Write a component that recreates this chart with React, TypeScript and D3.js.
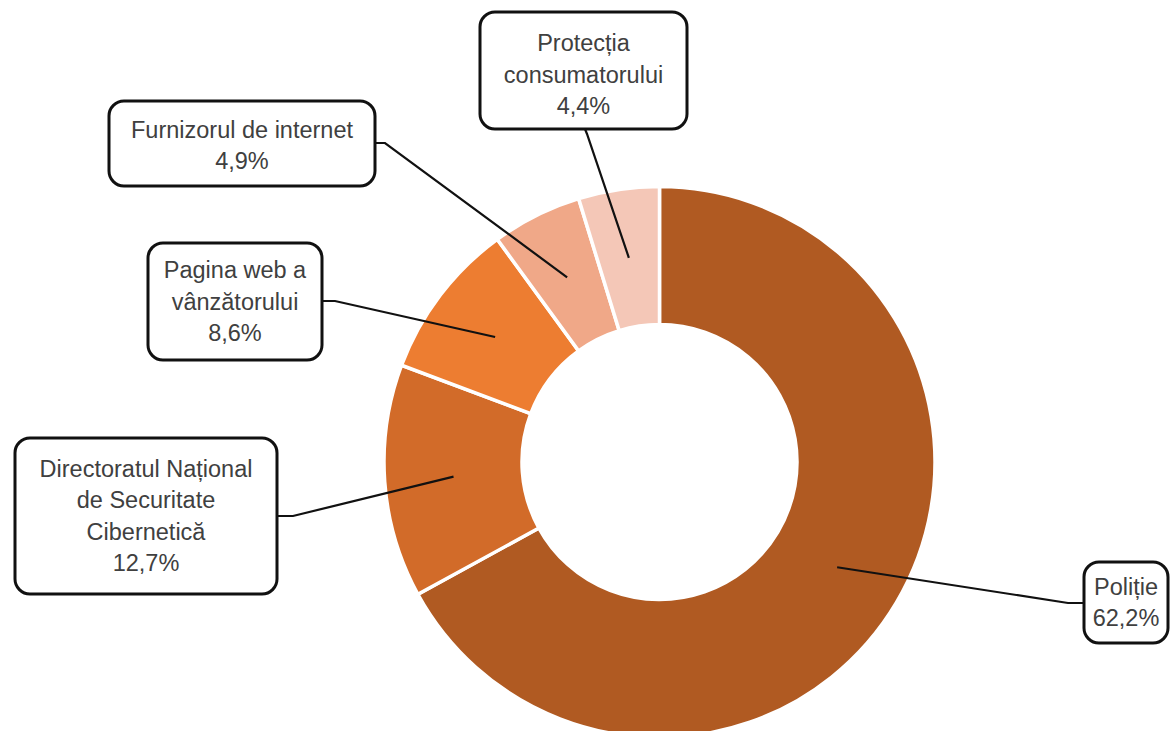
import React from "react";
import * as d3 from "d3";

const categories = [
  "Poliție",
  "Directoratul Național de Securitate Cibernetică",
  "Pagina web a vânzătorului",
  "Furnizorul de internet",
  "Protecția consumatorului",
];
const values = [62.2, 12.7, 8.6, 4.9, 4.4];
const valueLabels = ["62,2%", "12,7%", "8,6%", "4,9%", "4,4%"];
const labelLines = [
  ["Poliție"],
  ["Directoratul Național", "de Securitate", "Cibernetică"],
  ["Pagina web a", "vânzătorului"],
  ["Furnizorul de internet"],
  ["Protecția", "consumatorului"],
];
const colors = ["#B05A22", "#D26B29", "#ED7D31", "#F0A888", "#F4C7B7"];

// layout of label boxes: x, y, w, h, text offset, elbow point (ex, ey) and line end (lx, ly)
const boxes = [
  { x: 1084, y: 562, w: 84, h: 81, dy: 0, ex: 1068, ey: 603, lx: 1084, ly: 603 },
  { x: 15, y: 438, w: 262, h: 156, dy: 0, ex: 293, ey: 516, lx: 277, ly: 516 },
  { x: 148, y: 243, w: 174, h: 117, dy: 0, ex: 335, ey: 301, lx: 322, ly: 301 },
  { x: 109, y: 101, w: 266, h: 85, dy: 2, ex: 385, ey: 143, lx: 375, ly: 143 },
  { x: 480, y: 12, w: 207, h: 117, dy: 4, ex: 587, ey: 134, lx: 585, ly: 129 },
];

export default function App() {
  const W = 1174, H = 731;
  const cx = 659.5, cy = 462;
  const R = 275.5, r = 137.5;
  const pie = d3.pie<number>().sort(null).value((d) => d);
  const arcs = pie(values);
  const arc = d3.arc<d3.PieArcDatum<number>>().innerRadius(r).outerRadius(R);
  const fs = 23.5;
  const lh = 31.5;
  return (
    <svg width={W} height={H} style={{ position: "absolute", left: 0, top: 0, display: "block", background: "#fff" }}>
      <g transform={`translate(${cx},${cy})`}>
        {arcs.map((a, i) => (
          <path key={i} d={arc(a) || ""} fill={colors[i]} stroke="#fff" strokeWidth={3.5} />
        ))}
      </g>
      {arcs.map((a, i) => {
        const [px, py] = arc.centroid(a);
        const b = boxes[i];
        return (
          <polyline
            key={"l" + i}
            points={`${cx + px},${cy + py} ${b.ex},${b.ey} ${b.lx},${b.ly}`}
            fill="none"
            stroke="#111"
            strokeWidth={2.2}
          />
        );
      })}
      {boxes.map((b, i) => {
        const lines = [...labelLines[i], valueLabels[i]];
        const midY = b.y + b.h / 2 + b.dy;
        const startY = midY - ((lines.length - 1) * lh) / 2;
        return (
          <g key={"b" + i}>
            <rect x={b.x} y={b.y} width={b.w} height={b.h} rx={15} ry={15} fill="#fff" stroke="#111" strokeWidth={3} />
            {lines.map((t, j) => (
              <text
                key={j}
                x={b.x + b.w / 2}
                y={startY + j * lh}
                textAnchor="middle"
                dominantBaseline="central"
                fontFamily="'Liberation Sans', Arial, sans-serif"
                fontSize={fs}
                fill="#404040"
              >
                {t}
              </text>
            ))}
          </g>
        );
      })}
    </svg>
  );
}
